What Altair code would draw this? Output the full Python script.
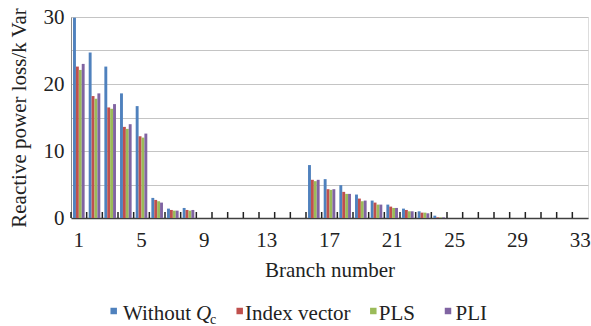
import altair as alt
import pandas as pd

# Reactive power loss (kVar) for each of the 33 branches, four cases
branches = list(range(1, 34))
series = ["Without Qc", "Index vector", "PLS", "PLI"]
colors = ["#4F81BD", "#C0504D", "#9BBB59", "#8064A2"]

without_qc = [29.9, 24.7, 22.6, 18.6, 16.7, 3.0, 1.4, 1.5, 0, 0, 0, 0, 0, 0, 0,
              7.9, 5.8, 4.9, 3.5, 2.6, 2.0, 1.4, 1.0, 0.35, 0, 0, 0, 0, 0, 0, 0, 0, 0]
index_vector = [22.6, 18.2, 16.5, 13.6, 12.2, 2.7, 1.2, 1.2, 0, 0, 0, 0, 0, 0, 0,
                5.7, 4.3, 3.9, 2.9, 2.3, 1.7, 1.2, 0.8, 0.1, 0, 0, 0, 0, 0, 0, 0, 0, 0]
pls = [22.1, 17.8, 16.3, 13.3, 12.0, 2.5, 1.1, 1.1, 0, 0, 0, 0, 0, 0, 0,
       5.5, 4.2, 3.6, 2.5, 2.0, 1.5, 1.0, 0.8, 0.1, 0, 0, 0, 0, 0, 0, 0, 0, 0]
pli = [23.0, 18.6, 17.0, 14.0, 12.6, 2.3, 1.1, 1.2, 0, 0, 0, 0, 0, 0, 0,
       5.7, 4.3, 3.6, 2.6, 2.0, 1.5, 1.0, 0.7, 0.1, 0, 0, 0, 0, 0, 0, 0, 0, 0]

x_tick_labels = [1, 5, 9, 13, 17, 21, 25, 29, 33]
y_grid_values = [0, 5, 10, 15, 20, 25, 30]

FONT = "Liberation Serif"
W, H = 517, 201

rows = []
for name, vals in zip(series, [without_qc, index_vector, pls, pli]):
    for b, v in zip(branches, vals):
        rows.append({"branch": b, "series": name, "loss": v})
df = pd.DataFrame(rows)


def branch_scale():
    return alt.Scale(domain=branches, paddingInner=0, paddingOuter=0)


color_scale = alt.Scale(domain=series, range=colors)

bars = alt.Chart(df).mark_bar().encode(
    x=alt.X(
        "branch:O",
        scale=branch_scale(),
        axis=alt.Axis(
            values=x_tick_labels, labelAngle=0, ticks=False, labelPadding=11,
            labelFontSize=21, labelFont=FONT, labelColor="#222",
            title="Branch number", titleFont=FONT, titleFontSize=21,
            titleFontWeight="normal", titleColor="#222", titlePadding=9,
            domainColor="#404040", domainWidth=1.5, grid=False,
        ),
    ),
    xOffset=alt.XOffset(
        "series:N",
        scale=alt.Scale(domain=series, paddingInner=0, paddingOuter=0.7),
    ),
    y=alt.Y(
        "loss:Q",
        scale=alt.Scale(domain=[0, 30], nice=False),
        axis=alt.Axis(
            values=y_grid_values,
            labelExpr="datum.value % 10 == 0 ? datum.label : ''",
            ticks=False, labelPadding=7, labelFontSize=21, labelFont=FONT,
            labelColor="#222", title="Reactive power loss/k Var",
            titleFont=FONT, titleFontSize=21, titleFontWeight="normal",
            titleColor="#222", titlePadding=14, grid=True,
            gridColor="#c4c4c4", domainColor="#8a8a8a",
        ),
    ),
    color=alt.Color("series:N", scale=color_scale, legend=None),
)

# inward tick marks at the category boundaries
ticks = alt.Chart(pd.DataFrame({"branch": branches})).mark_rule(
    color="#222", strokeWidth=1.5
).encode(
    x=alt.X("branch:O", bandPosition=0, scale=branch_scale(), axis=None),
    y=alt.value(H - 6),
    y2=alt.value(H),
)

# legend drawn by hand so that Q can be italic with a subscript c
legend_df = pd.DataFrame({
    "series": series,
    "sq_x": [42.7, 168.7, 302.3, 377.0],
    "tx": [52, 174, 307.7, 384.5],
    "label": ["Without", "Index vector", "PLS", "PLI"],
})
px_scale = alt.Scale(domain=[0, W], range=[0, W])
leg_sq = alt.Chart(legend_df).mark_square(size=42, opacity=1).encode(
    x=alt.X("sq_x:Q", scale=px_scale, axis=None),
    y=alt.value(H + 93),
    color=alt.Color("series:N", scale=color_scale, legend=None),
)
leg_tx = alt.Chart(legend_df).mark_text(
    align="left", baseline="alphabetic", font=FONT, fontSize=21, color="#222"
).encode(
    x=alt.X("tx:Q", scale=px_scale, axis=None),
    y=alt.value(H + 102),
    text="label:N",
)
leg_q = alt.Chart(pd.DataFrame({"t": ["Q"]})).mark_text(
    align="left", baseline="alphabetic", font=FONT, fontSize=21,
    fontStyle="italic", color="#222",
).encode(x=alt.value(125), y=alt.value(H + 102), text="t:N")
leg_c = alt.Chart(pd.DataFrame({"t": ["c"]})).mark_text(
    align="left", baseline="alphabetic", font=FONT, fontSize=14, color="#222",
).encode(x=alt.value(139), y=alt.value(H + 106), text="t:N")

chart = alt.layer(bars, ticks, leg_sq, leg_tx, leg_q, leg_c).resolve_scale(
    x="independent"
).resolve_axis(x="independent").properties(
    width=W, height=H,
    autosize=alt.AutoSizeParams(type="none"),
    padding={"left": 71, "top": 17, "right": 3, "bottom": 108},
).configure_view(stroke="#a6a6a6", strokeWidth=1).configure(background="white")

chart.save("out.html", embed_options={"renderer": "svg", "actions": False})
